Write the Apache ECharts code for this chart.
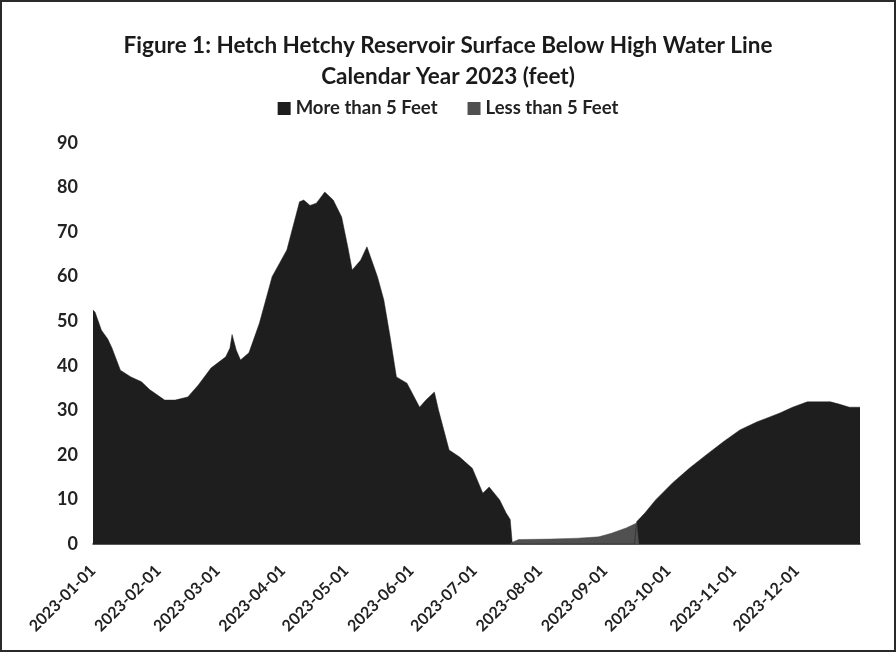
<!DOCTYPE html>
<html>
<head>
<meta charset="utf-8">
<script src="https://cdn.jsdelivr.net/npm/echarts@6/dist/echarts.min.js"></script>
<style>
html,body{margin:0;padding:0;background:#fff;}
#chart{width:896px;height:652px;box-sizing:border-box;border:2px solid #2a2a2a;}
</style>
</head>
<body>
<div id="chart"></div>
<script>
// Series: "More than 5 Feet" (date, feet below high water line)
var moreDates = ['2023-01-01','2023-01-02','2023-01-05','2023-01-08','2023-01-10','2023-01-14','2023-01-19','2023-01-24','2023-01-28','2023-02-04','2023-02-09','2023-02-15','2023-02-20','2023-02-26','2023-03-05','2023-03-07','2023-03-08','2023-03-10','2023-03-12','2023-03-16','2023-03-21','2023-03-27','2023-04-03','2023-04-09','2023-04-11','2023-04-14','2023-04-17','2023-04-21','2023-04-25','2023-04-29','2023-05-02','2023-05-04','2023-05-08','2023-05-11','2023-05-16','2023-05-19','2023-05-22','2023-05-25','2023-05-30','2023-06-05','2023-06-08','2023-06-12','2023-06-14','2023-06-19','2023-06-24','2023-06-30','2023-07-05','2023-07-08','2023-07-13','2023-07-16','2023-07-18','2023-07-19','2023-09-15','2023-09-16','2023-09-20','2023-09-25','2023-10-03','2023-10-11','2023-10-19','2023-10-27','2023-11-04','2023-11-12','2023-11-17','2023-11-23','2023-11-29','2023-12-06','2023-12-17','2023-12-21','2023-12-26','2023-12-31'];
var moreValues = [52.5,52,48,46,44,39,37.5,36.4,34.6,32.3,32.3,33,35.7,39.5,42,44,47,43.5,41.3,42.9,49.6,60,66,76.8,77.2,76,76.5,79,77.2,73.4,66.5,61.5,63.7,66.7,60,54.8,46.5,37.5,36.1,30.7,32.3,34.1,30,21.1,19.5,17,11.4,12.8,9.9,7,5.5,0,0,5,7,9.9,13.7,17,20,22.9,25.6,27.4,28.3,29.4,30.7,31.9,31.9,31.4,30.7,30.7];
// Series: "Less than 5 Feet"
var lessDates = ['2023-07-18','2023-07-19','2023-07-22','2023-08-06','2023-08-19','2023-08-29','2023-09-04','2023-09-11','2023-09-16','2023-09-17'];
var lessValues = [0,0.4,1,1.1,1.3,1.6,2.4,3.6,4.7,0];
var yTicks = [0,10,20,30,40,50,60,70,80,90];
var seriesNames = ['More than 5 Feet','Less than 5 Feet'];

// calendar days of 2023 as axis categories
var days = [];
for (var t = Date.UTC(2023,0,1); t <= Date.UTC(2023,11,31); t += 86400000) {
  days.push(new Date(t).toISOString().slice(0,10));
}
function pairs(d, v){ return d.map(function(x,i){ return [x, v[i]]; }); }

var chart = echarts.init(document.getElementById('chart'));
var FONT = 'Lato';
chart.setOption({
  backgroundColor: '#ffffff',
  animation: false,
  title: {
    text: 'Figure 1: Hetch Hetchy Reservoir Surface Below High Water Line\nCalendar Year 2023 (feet)',
    left: 'center',
    top: 23,
    textStyle: {fontFamily: FONT, fontWeight: 'bold', fontSize: 22.5, lineHeight: 31, color: '#1a1a1a'}
  },
  legend: {
    data: seriesNames,
    top: 92,
    left: 'center',
    icon: 'rect',
    itemWidth: 13,
    itemHeight: 13,
    itemGap: 30,
    textStyle: {fontFamily: FONT, fontWeight: 'bold', fontSize: 18.5, color: '#222'}
  },
  grid: {left: 91, right: 34, top: 141, bottom: 106, containLabel: false},
  xAxis: {
    type: 'category',
    data: days,
    boundaryGap: false,
    axisLine: {show: true, lineStyle: {color: '#222', width: 1.5}},
    axisTick: {show: false},
    splitLine: {show: false},
    axisLabel: {
      interval: function(i, v){ return v.slice(8) === '01'; },
      rotate: 45,
      margin: 24,
      fontFamily: FONT, fontWeight: 'bold', fontSize: 16, color: '#222'
    }
  },
  yAxis: {
    type: 'value',
    min: yTicks[0],
    max: yTicks[yTicks.length-1],
    interval: 10,
    axisLine: {show: false},
    axisTick: {show: false},
    splitLine: {show: false},
    axisLabel: {margin: 15, fontFamily: FONT, fontWeight: 'bold', fontSize: 18, color: '#222'}
  },
  series: [
    {
      name: seriesNames[0], type: 'line', data: pairs(moreDates, moreValues),
      symbol: 'none', smooth: false,
      itemStyle: {color: '#1e1e1e'},
      lineStyle: {width: 0.5, color: '#1e1e1e'},
      areaStyle: {color: '#1e1e1e', opacity: 1}
    },
    {
      name: seriesNames[1], type: 'line', data: pairs(lessDates, lessValues),
      symbol: 'none', smooth: false,
      itemStyle: {color: '#505050'},
      lineStyle: {width: 0.5, color: '#505050'},
      areaStyle: {color: '#505050', opacity: 1}
    }
  ]
});
</script>
</body>
</html>
